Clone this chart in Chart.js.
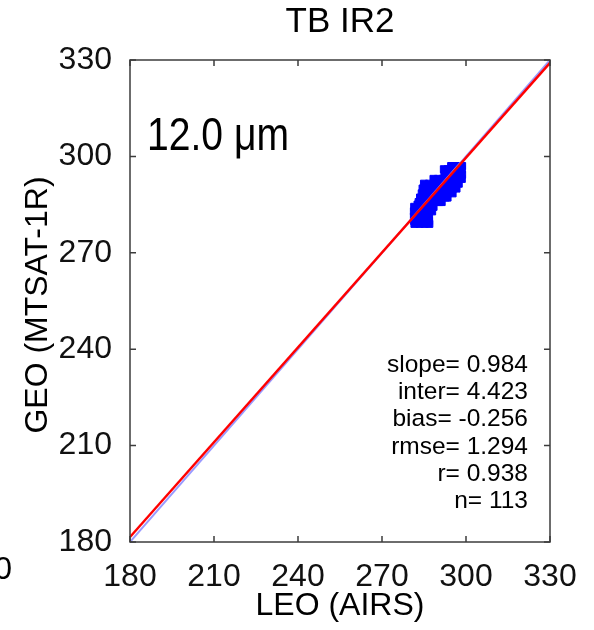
<!DOCTYPE html>
<html>
<head>
<meta charset="utf-8">
<script src="https://cdn.jsdelivr.net/npm/chart.js@4"></script>
<style>
  html, body { margin: 0; padding: 0; background: #fff; }
  #wrap { width: 594px; height: 630px; }
</style>
</head>
<body>
<div id="wrap"><canvas id="tbChart" width="594" height="630"></canvas></div>
<script>
// axis setup
const axisMin = 180;
const axisMax = 330;
const tickValues = [180, 210, 240, 270, 300, 330];

// collocated brightness temperatures (K): LEO = AIRS, GEO = MTSAT-1R
const leoTb = [
  294.7, 296.1, 297.4, 298.6,
  292.1, 293.5, 295.2, 297.0, 298.5,
  292.3, 293.8, 295.6, 297.3, 298.6,
  288.4, 290.0, 291.6, 293.4, 295.2, 296.9, 298.5,
  285.0, 286.8, 288.5, 290.3, 292.1, 294.0, 295.8, 297.4,
  284.5, 286.3, 288.0, 289.9, 291.7, 293.6, 295.4, 296.6,
  284.2, 286.0, 287.9, 289.8, 291.6, 293.5, 295.2,
  283.6, 285.4, 287.2, 289.1, 291.0, 292.8, 293.4,
  283.1, 284.9, 286.8, 288.6, 290.4, 291.3,
  281.5, 283.3, 285.1, 286.9, 288.4,
  281.4, 283.2, 285.0, 286.7, 287.9,
  281.4, 283.1, 284.9, 286.8,
  281.5, 283.3, 285.1, 286.8,
  281.6, 283.4, 285.2, 286.9,
  289.4, 290.6, 291.2, 292.5, 293.1, 294.2, 295.0, 296.2, 297.1,
  288.1, 287.3, 286.2, 285.4, 284.3, 283.7, 282.6, 284.6, 286.1,
  287.5, 288.8, 290.2, 291.9, 293.0, 294.7, 296.0, 297.8, 289.0,
  287.0, 285.6, 284.9, 282.7, 282.3, 284.0, 286.0
];
const geoTb = [
  297.0, 297.0, 297.0, 297.0,
  296.0, 296.0, 296.0, 296.0, 296.0,
  294.3, 294.3, 294.3, 294.3, 294.3,
  293.0, 293.0, 293.0, 293.0, 293.0, 293.0, 293.0,
  291.5, 291.5, 291.5, 291.5, 291.5, 291.5, 291.5, 291.5,
  290.0, 290.0, 290.0, 290.0, 290.0, 290.0, 290.0, 290.0,
  288.5, 288.5, 288.5, 288.5, 288.5, 288.5, 288.5,
  287.2, 287.2, 287.2, 287.2, 287.2, 287.2, 287.2,
  285.8, 285.8, 285.8, 285.8, 285.8, 285.8,
  284.3, 284.3, 284.3, 284.3, 284.3,
  282.9, 282.9, 282.9, 282.9, 282.9,
  281.3, 281.3, 281.3, 281.3,
  279.9, 279.9, 279.9, 279.9,
  279.0, 279.0, 279.0, 279.0,
  289.1, 290.5, 289.7, 291.2, 292.4, 293.0, 294.8, 295.4, 296.3,
  287.6, 286.4, 285.1, 284.0, 283.1, 282.0, 280.8, 280.2, 282.1,
  284.7, 286.0, 287.9, 288.6, 290.4, 291.8, 292.6, 294.9, 291.9,
  290.2, 288.9, 287.0, 285.0, 283.6, 279.4, 280.6
];

// regression statistics
const slope = 0.984;
const inter = 4.423;
const bias = -0.256;
const rmse = 1.294;
const rCorr = 0.938;
const nObs = 113;
const statLines = [
  'slope= ' + slope.toFixed(3),
  'inter= ' + inter.toFixed(3),
  'bias= ' + bias.toFixed(3),
  'rmse= ' + rmse.toFixed(3),
  'r= ' + rCorr.toFixed(3),
  'n= ' + nObs
];

const FONT = '"Liberation Sans", Arial, Helvetica, sans-serif';

const points = leoTb.map((x, i) => ({ x, y: geoTb[i] }));
const oneToOne = [{ x: axisMin, y: axisMin }, { x: axisMax, y: axisMax }];
const fitLine = [axisMin, axisMax].map(x => ({ x, y: slope * x + inter }));

// box, inward ticks and all the free text
const decor = {
  id: 'decor',
  afterDatasetsDraw(chart) {
    const { ctx, chartArea: a, scales } = chart;
    ctx.save();
    ctx.strokeStyle = '#3c3c3c';
    ctx.lineWidth = 1.5;
    ctx.strokeRect(a.left, a.top, a.right - a.left, a.bottom - a.top);
    const tl = 6;
    ctx.beginPath();
    tickValues.forEach(v => {
      const px = scales.x.getPixelForValue(v);
      ctx.moveTo(px, a.bottom); ctx.lineTo(px, a.bottom - tl);
      ctx.moveTo(px, a.top); ctx.lineTo(px, a.top + tl);
      const py = scales.y.getPixelForValue(v);
      ctx.moveTo(a.left, py); ctx.lineTo(a.left + tl, py);
      ctx.moveTo(a.right, py); ctx.lineTo(a.right - tl, py);
    });
    ctx.stroke();

    ctx.fillStyle = '#000';
    const cx = (a.left + a.right) / 2;
    const cy = (a.top + a.bottom) / 2;

    // title
    ctx.font = '35px ' + FONT;
    ctx.textAlign = 'center';
    ctx.textBaseline = 'middle';
    ctx.fillText('TB IR2', cx, 22);

    // axis titles
    ctx.font = '32px ' + FONT;
    ctx.fillText('LEO (AIRS)', cx, 606);
    ctx.save();
    ctx.translate(38, cy + 4);
    ctx.rotate(-Math.PI / 2);
    ctx.fillText('GEO (MTSAT-1R)', 0, 0);
    ctx.restore();

    // edge of the neighbouring panel's axis labels
    ctx.textAlign = 'right';
    ctx.fillText('330', 12, 570);

    // channel label, horizontally condensed
    ctx.save();
    ctx.translate(a.left + 17, 150);
    ctx.scale(0.85, 1);
    ctx.font = '46px ' + FONT;
    ctx.textAlign = 'left';
    ctx.textBaseline = 'alphabetic';
    ctx.fillText('12.0 \u03bcm', 0, 0);
    ctx.restore();

    // statistics block
    ctx.font = '24.5px ' + FONT;
    ctx.textAlign = 'right';
    ctx.textBaseline = 'middle';
    statLines.forEach((t, i) => ctx.fillText(t, a.right - 22, 365 + i * 27.3));
    ctx.restore();
  }
};

new Chart(document.getElementById('tbChart'), {
  type: 'scatter',
  data: {
    datasets: [
      {
        type: 'line',
        label: 'fit',
        data: fitLine,
        borderColor: '#ff0000',
        borderWidth: 2.5,
        pointRadius: 0,
        order: 0
      },
      {
        type: 'line',
        label: '1:1',
        data: oneToOne,
        borderColor: '#9a9aff',
        borderWidth: 2,
        pointRadius: 0,
        order: 1
      },
      {
        label: 'TB',
        data: points,
        pointStyle: 'rect',
        pointRadius: 5,
        backgroundColor: '#0000ff',
        borderColor: '#0000ff',
        borderWidth: 1,
        order: 2
      }
    ]
  },
  plugins: [decor],
  options: {
    responsive: false,
    animation: false,
    events: [],
    layout: { padding: { top: 60, right: 44, left: 0, bottom: 0 } },
    plugins: {
      legend: { display: false },
      tooltip: { enabled: false },
      title: { display: false }
    },
    scales: {
      x: {
        type: 'linear',
        min: axisMin,
        max: axisMax,
        afterBuildTicks: s => { s.ticks = tickValues.map(value => ({ value })); },
        afterFit: s => { s.height = 88; },
        grid: { display: false },
        border: { display: false },
        ticks: { color: '#111', padding: 8, font: { family: FONT, size: 32 }, maxRotation: 0 }
      },
      y: {
        type: 'linear',
        min: axisMin,
        max: axisMax,
        afterBuildTicks: s => { s.ticks = tickValues.map(value => ({ value })); },
        afterFit: s => { s.width = 130; },
        grid: { display: false },
        border: { display: false },
        ticks: { color: '#111', padding: 10, font: { family: FONT, size: 32 } }
      }
    }
  }
});
</script>
</body>
</html>
